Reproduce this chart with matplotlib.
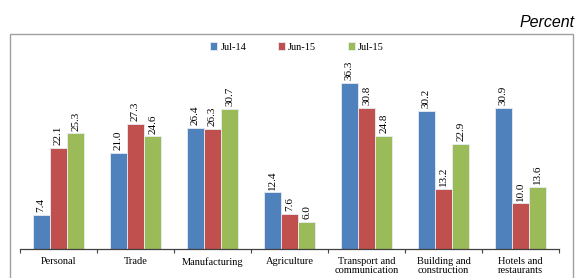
import numpy as np
import matplotlib.pyplot as plt
from matplotlib.patches import Rectangle

# 数据
categories = ["Personal", "Trade", "Manufacturing", "Agriculture",
              "Transport and\ncommunication", "Building and\nconstruction",
              "Hotels and\nrestaurants"]
jul14 = [7.4, 21.0, 26.4, 12.4, 36.3, 30.2, 30.9]
jun15 = [22.1, 27.3, 26.3, 7.6, 30.8, 13.2, 10.0]
jul15 = [25.3, 24.6, 30.7, 6.0, 24.8, 22.9, 13.6]
series_names = ["Jul-14", "Jun-15", "Jul-15"]
colors = ["#4F81BD", "#C0504D", "#9BBB59"]

W, H = 576, 278
fig = plt.figure(figsize=(W / 100, H / 100), dpi=100)
serif = "Liberation Serif"

# 外框
fig.patches.append(Rectangle((10 / W, -0.1), 563 / W, 0.1 + 1 - 34 / H,
                             transform=fig.transFigure, fill=False,
                             edgecolor="#a0a0a0", linewidth=1.0))

fig.text(575 / W, 1 - 27 / H, "Percent", ha="right", va="baseline",
         fontsize=11.5, style="italic", family="Liberation Sans")

ax = fig.add_axes([20 / W, 1 - 249 / H, 539 / W, 183 / H])
x = np.arange(len(categories))
bw = 0.225
for i, (vals, name, c) in enumerate(zip([jul14, jun15, jul15], series_names, colors)):
    pos = x + (i - 1) * bw
    ax.bar(pos, vals, bw, color=c, edgecolor="#e8ecf4", linewidth=0.6, label=name)
    for xp, v in zip(pos, vals):
        ax.text(xp, v + 0.6, f"{v:.1f}", rotation=90, ha="center", va="bottom",
                fontsize=8, family=serif)

ax.set_xlim(-0.5, len(categories) - 0.5)
ax.set_ylim(0, 40)
for s in ["top", "right", "left"]:
    ax.spines[s].set_visible(False)
ax.spines["bottom"].set_color("#404040")
ax.spines["bottom"].set_linewidth(0.9)
ax.set_yticks([])
ax.set_xticks(np.arange(len(categories) + 1) - 0.5)
ax.set_xticklabels([])
ax.set_xticks(x, minor=True)
ax.set_xticklabels(categories, minor=True, fontsize=7.5, family=serif, linespacing=1.0)
ax.tick_params(axis="x", which="major", length=3, color="#404040", direction="out")
ax.tick_params(axis="x", which="minor", length=0, pad=6)

fig.legend(loc="center", bbox_to_anchor=(297 / W, 1 - 47 / H), ncol=3, frameon=False,
           handlelength=0.7, handleheight=0.7, handletextpad=0.3, columnspacing=3.0,
           prop={"family": serif, "size": 7.5})

fig.savefig("out.png", dpi=100)
